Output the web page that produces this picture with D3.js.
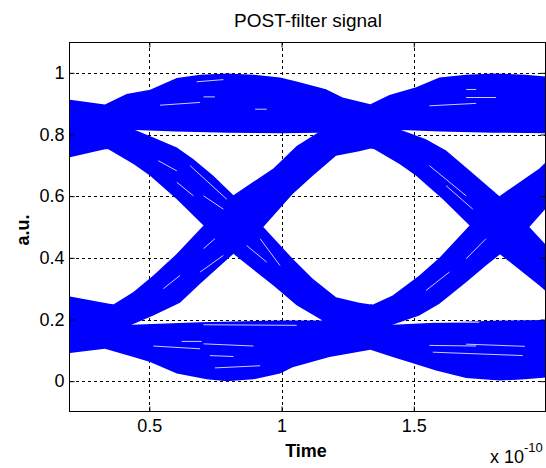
<!DOCTYPE html>
<html>
<head>
<meta charset="utf-8">
<script src="https://cdn.jsdelivr.net/npm/d3@7"></script>
<style>
  body { margin: 0; background: #fff; }
  text { font-family: Arial, "Liberation Sans", Helvetica, sans-serif; fill: #000; }
</style>
</head>
<body>
<svg id="chart" width="546" height="468"></svg>
<script>
// time in units of 1e-10 s, amplitude in a.u.
const xTicks = [0.5, 1, 1.5];
const xTickLabels = ["0.5", "1", "1.5"];
const yTicks = [0, 0.2, 0.4, 0.6, 0.8, 1];
const yTickLabels = ["0", "0.2", "0.4", "0.6", "0.8", "1"];

// envelopes of the "1" rail
const highTop = [[0.2,0.913],[0.332,0.897],[0.414,0.931],[0.503,0.945],[0.604,0.983],[0.692,0.994],[0.793,0.998],[0.894,0.994],[0.994,0.985],[1.057,0.972],[1.168,0.947],[1.231,0.920],[1.336,0.898],[1.408,0.928],[1.509,0.953],[1.597,0.985],[1.698,0.994],[1.799,0.998],[1.920,0.994],[2.0,0.988]];
const highBottom = [[0.2,0.726],[0.332,0.752],[0.446,0.815],[0.6,0.810],[0.8,0.806],[1.0,0.804],[1.143,0.806],[1.336,0.755],[1.452,0.815],[1.6,0.810],[1.8,0.806],[2.0,0.804]];
// envelopes of the "0" rail
const lowTop = [[0.2,0.275],[0.364,0.249],[0.433,0.183],[0.692,0.191],[1.0,0.197],[1.155,0.197],[1.344,0.248],[1.42,0.183],[1.6,0.190],[1.8,0.196],[2.0,0.198]];
const lowBottom = [[0.2,0.091],[0.332,0.105],[0.44,0.078],[0.503,0.062],[0.604,0.025],[0.717,0.006],[0.793,0.0],[0.894,0.006],[0.994,0.025],[1.042,0.045],[1.181,0.078],[1.336,0.102],[1.42,0.078],[1.509,0.055],[1.584,0.035],[1.698,0.010],[1.824,0.002],[1.920,0.006],[2.0,0.012]];
// 1 -> 0 transitions
const fall1Upper = [[0.332,0.85],[0.446,0.815],[0.515,0.790],[0.604,0.758],[0.667,0.720],[0.742,0.666],[0.818,0.603],[0.931,0.500],[1.042,0.397],[1.118,0.332],[1.206,0.272],[1.294,0.254],[1.344,0.248]];
const fall1Lower = [[0.332,0.752],[0.345,0.752],[0.440,0.704],[0.503,0.666],[0.604,0.590],[0.705,0.505],[0.818,0.413],[0.969,0.310],[1.057,0.246],[1.155,0.197],[1.344,0.150]];
const fall2Upper = [[1.336,0.85],[1.452,0.815],[1.546,0.785],[1.622,0.748],[1.711,0.683],[1.824,0.600],[1.937,0.500],[2.048,0.397]];
const fall2Lower = [[1.336,0.755],[1.351,0.752],[1.446,0.704],[1.509,0.666],[1.610,0.590],[1.711,0.505],[1.824,0.413],[1.975,0.310],[2.063,0.246]];
// 0 -> 1 transitions
const rise1Upper = [[0.332,0.250],[0.364,0.249],[0.440,0.289],[0.515,0.343],[0.604,0.413],[0.705,0.505],[0.818,0.603],[0.969,0.690],[1.057,0.763],[1.143,0.809],[1.336,0.850]];
const rise1Lower = [[0.332,0.150],[0.433,0.183],[0.515,0.213],[0.616,0.254],[0.692,0.316],[0.755,0.365],[0.818,0.413],[0.931,0.500],[1.042,0.607],[1.118,0.666],[1.206,0.731],[1.294,0.746],[1.336,0.755]];
const rise2Upper = [[1.336,0.250],[1.344,0.248],[1.420,0.278],[1.521,0.343],[1.597,0.400],[1.711,0.505],[1.824,0.600],[1.975,0.690],[2.063,0.763]];
const rise2Lower = [[1.336,0.150],[1.420,0.183],[1.521,0.213],[1.597,0.251],[1.698,0.321],[1.773,0.375],[1.824,0.410],[1.937,0.500],[2.048,0.607]];

// gaps between traces (t0, v0, t1, v1)
const streaks = [
  [0.540,0.895,0.692,0.904],[0.705,0.922,0.748,0.922],[0.679,0.971,0.780,0.978],[0.900,0.882,0.944,0.882],
  [1.559,0.893,1.736,0.901],[1.698,0.920,1.811,0.920],[1.698,0.946,1.736,0.946],
  [0.534,0.715,0.604,0.682],[0.654,0.699,0.793,0.590],[0.604,0.645,0.667,0.601],[0.705,0.601,0.780,0.558],
  [0.553,0.300,0.616,0.343],[0.705,0.430,0.748,0.462],[0.692,0.354,0.780,0.408],
  [0.919,0.462,0.994,0.375],[0.868,0.440,0.944,0.386],
  [0.705,0.183,1.057,0.181],[0.515,0.114,0.692,0.105],[0.705,0.121,0.894,0.114],[0.622,0.129,0.698,0.129],
  [0.729,0.083,0.818,0.080],[0.748,0.043,0.919,0.050],
  [1.546,0.294,1.635,0.354],[1.698,0.397,1.773,0.462],
  [1.559,0.699,1.698,0.601],[1.622,0.634,1.723,0.558],
  [1.584,0.191,1.748,0.191],[1.559,0.116,1.736,0.114],[1.698,0.120,1.920,0.113],[1.572,0.094,1.912,0.083]
];

const bands = [
  [highTop, highBottom], [lowTop, lowBottom],
  [fall1Upper, fall1Lower], [rise1Upper, rise1Lower],
  [fall2Upper, fall2Lower], [rise2Upper, rise2Lower]
];

const L = 70, R = 546, T = 42, B = 412;
const svg = d3.select("#chart");
const x = d3.scaleLinear().domain([0.2, 2.0]).range([L, R]);
const y = d3.scaleLinear().domain([-0.1, 1.1]).range([B, T]);
const px = v => Math.round(v) + 0.5;

svg.append("defs").append("clipPath").attr("id", "plot-clip")
   .append("rect").attr("x", L).attr("y", T).attr("width", R - L).attr("height", B - T);

// grid
const grid = svg.append("g").attr("stroke", "#000").attr("stroke-dasharray", "3,3").attr("stroke-width", 1);
grid.selectAll(".gx").data(xTicks).join("line").attr("class", "gx")
    .attr("x1", d => px(x(d))).attr("x2", d => px(x(d))).attr("y1", T).attr("y2", B);
grid.selectAll(".gy").data(yTicks).join("line").attr("class", "gy")
    .attr("x1", L).attr("x2", R).attr("y1", d => px(y(d))).attr("y2", d => px(y(d)));

// eye diagram bands
const line = d3.line().x(d => x(d[0])).y(d => y(d[1]));
const plot = svg.append("g").attr("clip-path", "url(#plot-clip)");
plot.selectAll("path").data(bands).join("path")
    .attr("d", d => line(d[0].concat(d[1].slice().reverse())) + "Z")
    .attr("fill", "#0000ff");
plot.selectAll("line").data(streaks).join("line")
    .attr("x1", d => x(d[0])).attr("y1", d => y(d[1])).attr("x2", d => x(d[2])).attr("y2", d => y(d[3]))
    .attr("stroke", "#fff").attr("stroke-opacity", 0.8).attr("stroke-width", 1);

// axes, MATLAB style ticks pointing inward
const fmtX = (d, i) => xTickLabels[i], fmtY = (d, i) => yTickLabels[i];
svg.append("g").attr("transform", `translate(0,${B - 0.5})`)
   .call(d3.axisBottom(x).tickValues(xTicks).tickFormat(fmtX).tickSizeInner(-5).tickSizeOuter(0).tickPadding(8));
svg.append("g").attr("transform", `translate(${L - 0.5},0)`)
   .call(d3.axisLeft(y).tickValues(yTicks).tickFormat(fmtY).tickSizeInner(-5).tickSizeOuter(0).tickPadding(5));
svg.append("g").attr("transform", `translate(0,${T + 0.5})`)
   .call(d3.axisTop(x).tickValues(xTicks).tickFormat("").tickSizeInner(-5).tickSizeOuter(0));
svg.append("g").attr("transform", `translate(${R - 0.5},0)`)
   .call(d3.axisRight(y).tickValues(yTicks).tickFormat("").tickSizeInner(-5).tickSizeOuter(0));
svg.selectAll(".domain").remove();
svg.selectAll(".tick line").attr("stroke", "#000");
svg.selectAll(".tick text").style("font-size", "18px").attr("font-family", null);

svg.append("rect").attr("x", L - 0.5).attr("y", T + 0.5).attr("width", R - L).attr("height", B - T - 1)
   .attr("fill", "none").attr("stroke", "#000").attr("stroke-width", 1);

// labels
svg.append("text").attr("x", (L + R) / 2).attr("y", 27).attr("text-anchor", "middle")
   .style("font-size", "19px").text("POST-filter signal");
svg.append("text").attr("x", (L + R) / 2 - 2).attr("y", 457).attr("text-anchor", "middle")
   .style("font-size", "18px").style("font-weight", "bold").text("Time");
svg.append("text").attr("transform", "translate(29,230) rotate(-90)").attr("text-anchor", "middle")
   .style("font-size", "18px").style("font-weight", "bold").text("a.u.");
const expo = svg.append("text").attr("x", 490).attr("y", 463).style("font-size", "18px");
expo.append("tspan").text("x 10");
expo.append("tspan").attr("dy", -11).style("font-size", "13px").text("-10");
</script>
</body>
</html>
